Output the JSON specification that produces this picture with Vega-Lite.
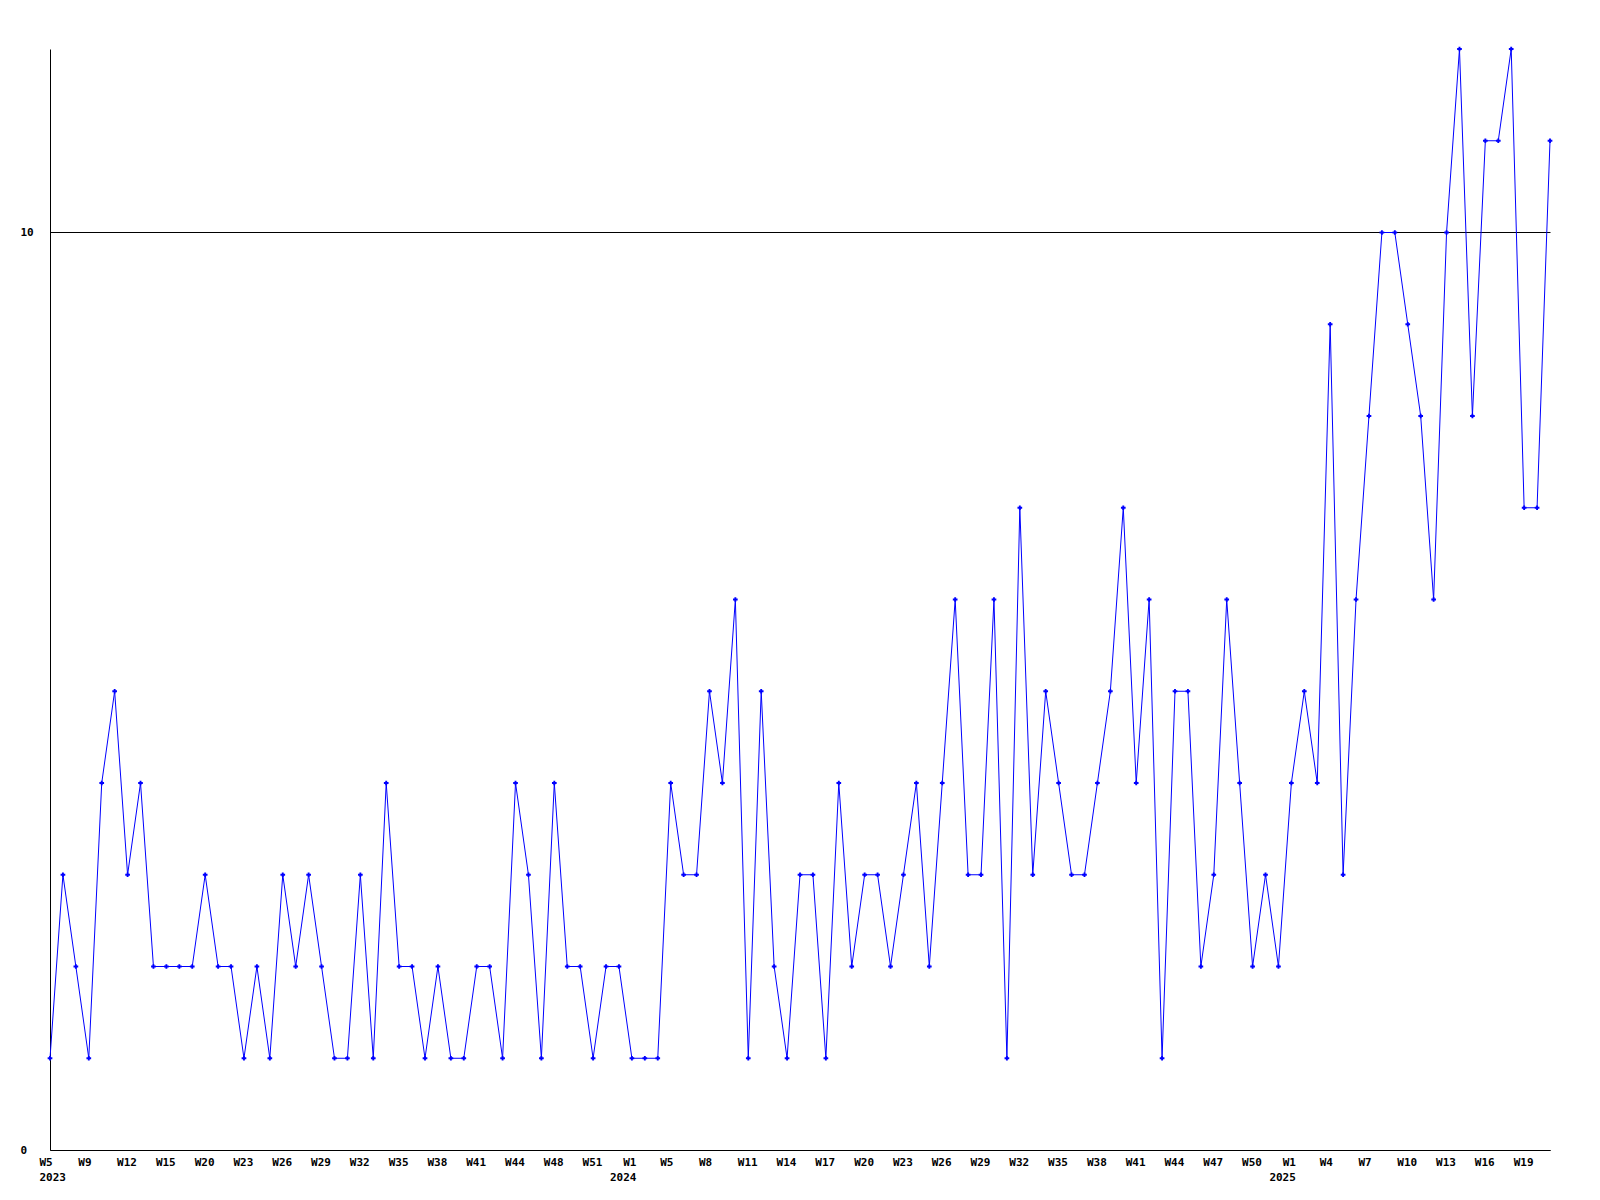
{
  "$schema": "https://vega.github.io/schema/vega-lite/v6.json",
  "width": 1500,
  "height": 1101,
  "autosize": {"type": "none"},
  "padding": {"left": 50, "top": 49, "right": 50, "bottom": 50},
  "background": "white",
  "config": {
    "view": {"stroke": null},
    "font": "DejaVu Sans Mono"
  },
  "data": {
    "values": [
      {"period": "2023 W5", "count": 1},
      {"period": "2023 W6", "count": 3},
      {"period": "2023 W8", "count": 2},
      {"period": "2023 W9", "count": 1},
      {"period": "2023 W10", "count": 4},
      {"period": "2023 W11", "count": 5},
      {"period": "2023 W12", "count": 3},
      {"period": "2023 W13", "count": 4},
      {"period": "2023 W14", "count": 2},
      {"period": "2023 W15", "count": 2},
      {"period": "2023 W17", "count": 2},
      {"period": "2023 W18", "count": 2},
      {"period": "2023 W20", "count": 3},
      {"period": "2023 W21", "count": 2},
      {"period": "2023 W22", "count": 2},
      {"period": "2023 W23", "count": 1},
      {"period": "2023 W24", "count": 2},
      {"period": "2023 W25", "count": 1},
      {"period": "2023 W26", "count": 3},
      {"period": "2023 W27", "count": 2},
      {"period": "2023 W28", "count": 3},
      {"period": "2023 W29", "count": 2},
      {"period": "2023 W30", "count": 1},
      {"period": "2023 W31", "count": 1},
      {"period": "2023 W32", "count": 3},
      {"period": "2023 W33", "count": 1},
      {"period": "2023 W34", "count": 4},
      {"period": "2023 W35", "count": 2},
      {"period": "2023 W36", "count": 2},
      {"period": "2023 W37", "count": 1},
      {"period": "2023 W38", "count": 2},
      {"period": "2023 W39", "count": 1},
      {"period": "2023 W40", "count": 1},
      {"period": "2023 W41", "count": 2},
      {"period": "2023 W42", "count": 2},
      {"period": "2023 W43", "count": 1},
      {"period": "2023 W44", "count": 4},
      {"period": "2023 W45", "count": 3},
      {"period": "2023 W47", "count": 1},
      {"period": "2023 W48", "count": 4},
      {"period": "2023 W49", "count": 2},
      {"period": "2023 W50", "count": 2},
      {"period": "2023 W51", "count": 1},
      {"period": "2023 W52", "count": 2},
      {"period": "2023 W53", "count": 2},
      {"period": "2024 W1", "count": 1},
      {"period": "2024 W2", "count": 1},
      {"period": "2024 W3", "count": 1},
      {"period": "2024 W5", "count": 4},
      {"period": "2024 W6", "count": 3},
      {"period": "2024 W7", "count": 3},
      {"period": "2024 W8", "count": 5},
      {"period": "2024 W9", "count": 4},
      {"period": "2024 W10", "count": 6},
      {"period": "2024 W11", "count": 1},
      {"period": "2024 W12", "count": 5},
      {"period": "2024 W13", "count": 2},
      {"period": "2024 W14", "count": 1},
      {"period": "2024 W15", "count": 3},
      {"period": "2024 W16", "count": 3},
      {"period": "2024 W17", "count": 1},
      {"period": "2024 W18", "count": 4},
      {"period": "2024 W19", "count": 2},
      {"period": "2024 W20", "count": 3},
      {"period": "2024 W21", "count": 3},
      {"period": "2024 W22", "count": 2},
      {"period": "2024 W23", "count": 3},
      {"period": "2024 W24", "count": 4},
      {"period": "2024 W25", "count": 2},
      {"period": "2024 W26", "count": 4},
      {"period": "2024 W27", "count": 6},
      {"period": "2024 W28", "count": 3},
      {"period": "2024 W29", "count": 3},
      {"period": "2024 W30", "count": 6},
      {"period": "2024 W31", "count": 1},
      {"period": "2024 W32", "count": 7},
      {"period": "2024 W33", "count": 3},
      {"period": "2024 W34", "count": 5},
      {"period": "2024 W35", "count": 4},
      {"period": "2024 W36", "count": 3},
      {"period": "2024 W37", "count": 3},
      {"period": "2024 W38", "count": 4},
      {"period": "2024 W39", "count": 5},
      {"period": "2024 W40", "count": 7},
      {"period": "2024 W41", "count": 4},
      {"period": "2024 W42", "count": 6},
      {"period": "2024 W43", "count": 1},
      {"period": "2024 W44", "count": 5},
      {"period": "2024 W45", "count": 5},
      {"period": "2024 W46", "count": 2},
      {"period": "2024 W47", "count": 3},
      {"period": "2024 W48", "count": 6},
      {"period": "2024 W49", "count": 4},
      {"period": "2024 W50", "count": 2},
      {"period": "2024 W51", "count": 3},
      {"period": "2024 W52", "count": 2},
      {"period": "2025 W1", "count": 4},
      {"period": "2025 W2", "count": 5},
      {"period": "2025 W3", "count": 4},
      {"period": "2025 W4", "count": 9},
      {"period": "2025 W5", "count": 3},
      {"period": "2025 W6", "count": 6},
      {"period": "2025 W7", "count": 8},
      {"period": "2025 W8", "count": 10},
      {"period": "2025 W9", "count": 10},
      {"period": "2025 W10", "count": 9},
      {"period": "2025 W11", "count": 8},
      {"period": "2025 W12", "count": 6},
      {"period": "2025 W13", "count": 10},
      {"period": "2025 W14", "count": 12},
      {"period": "2025 W15", "count": 8},
      {"period": "2025 W16", "count": 11},
      {"period": "2025 W17", "count": 11},
      {"period": "2025 W18", "count": 12},
      {"period": "2025 W19", "count": 7},
      {"period": "2025 W20", "count": 7},
      {"period": "2025 W21", "count": 11}
    ]
  },
  "encoding": {
    "x": {
      "field": "period",
      "type": "ordinal",
      "sort": null,
      "scale": {"type": "point", "padding": 0},
      "axis": {
        "title": null,
        "values": ["2023 W5", "2023 W9", "2023 W12", "2023 W15", "2023 W20", "2023 W23", "2023 W26", "2023 W29", "2023 W32", "2023 W35", "2023 W38", "2023 W41", "2023 W44", "2023 W48", "2023 W51", "2024 W1", "2024 W5", "2024 W8", "2024 W11", "2024 W14", "2024 W17", "2024 W20", "2024 W23", "2024 W26", "2024 W29", "2024 W32", "2024 W35", "2024 W38", "2024 W41", "2024 W44", "2024 W47", "2024 W50", "2025 W1", "2025 W4", "2025 W7", "2025 W10", "2025 W13", "2025 W16", "2025 W19"],
        "labelExpr": "indexof(['2023 W5','2024 W1','2025 W1'], datum.value) >= 0 ? [split(datum.value, ' ')[1], split(datum.value, ' ')[0]] : split(datum.value, ' ')[1]",
        "labelAngle": 0,
        "labelAlign": {"condition": {"test": "datum.value == '2024 W1' || datum.value == '2025 W1'", "value": "right"}, "value": "left"},
        "labelOffset": {"condition": {"test": "datum.value == '2024 W1' || datum.value == '2025 W1'", "value": 4}, "value": -11},
        "labelBaseline": "top",
        "labelPadding": 6,
        "labelFont": "DejaVu Sans Mono",
        "labelFontSize": 11,
        "labelFontWeight": "bold",
        "labelColor": "black",
        "labelLineHeight": 15,
        "labelOverlap": false,
        "labelFlush": false,
        "labelBound": false,
        "ticks": false,
        "tickSize": 0,
        "grid": false,
        "domainColor": "black",
        "domainWidth": 1
      }
    },
    "y": {
      "field": "count",
      "type": "quantitative",
      "scale": {"domain": [0, 12], "nice": false, "zero": true},
      "axis": {
        "title": null,
        "values": [0, 10],
        "grid": true,
        "gridColor": "black",
        "gridOpacity": 1,
        "gridWidth": 1,
        "ticks": false,
        "tickSize": 0,
        "labelAlign": "left",
        "labelBaseline": "middle",
        "labelPadding": 30,
        "labelFont": "DejaVu Sans Mono",
        "labelFontSize": 11,
        "labelFontWeight": "bold",
        "labelColor": "black",
        "domainColor": "black",
        "domainWidth": 1
      }
    }
  },
  "mark": {
    "type": "line",
    "color": "#0000ff",
    "strokeWidth": 1,
    "point": {"filled": true, "shape": "cross", "size": 22, "color": "#0000ff"}
  }
}
